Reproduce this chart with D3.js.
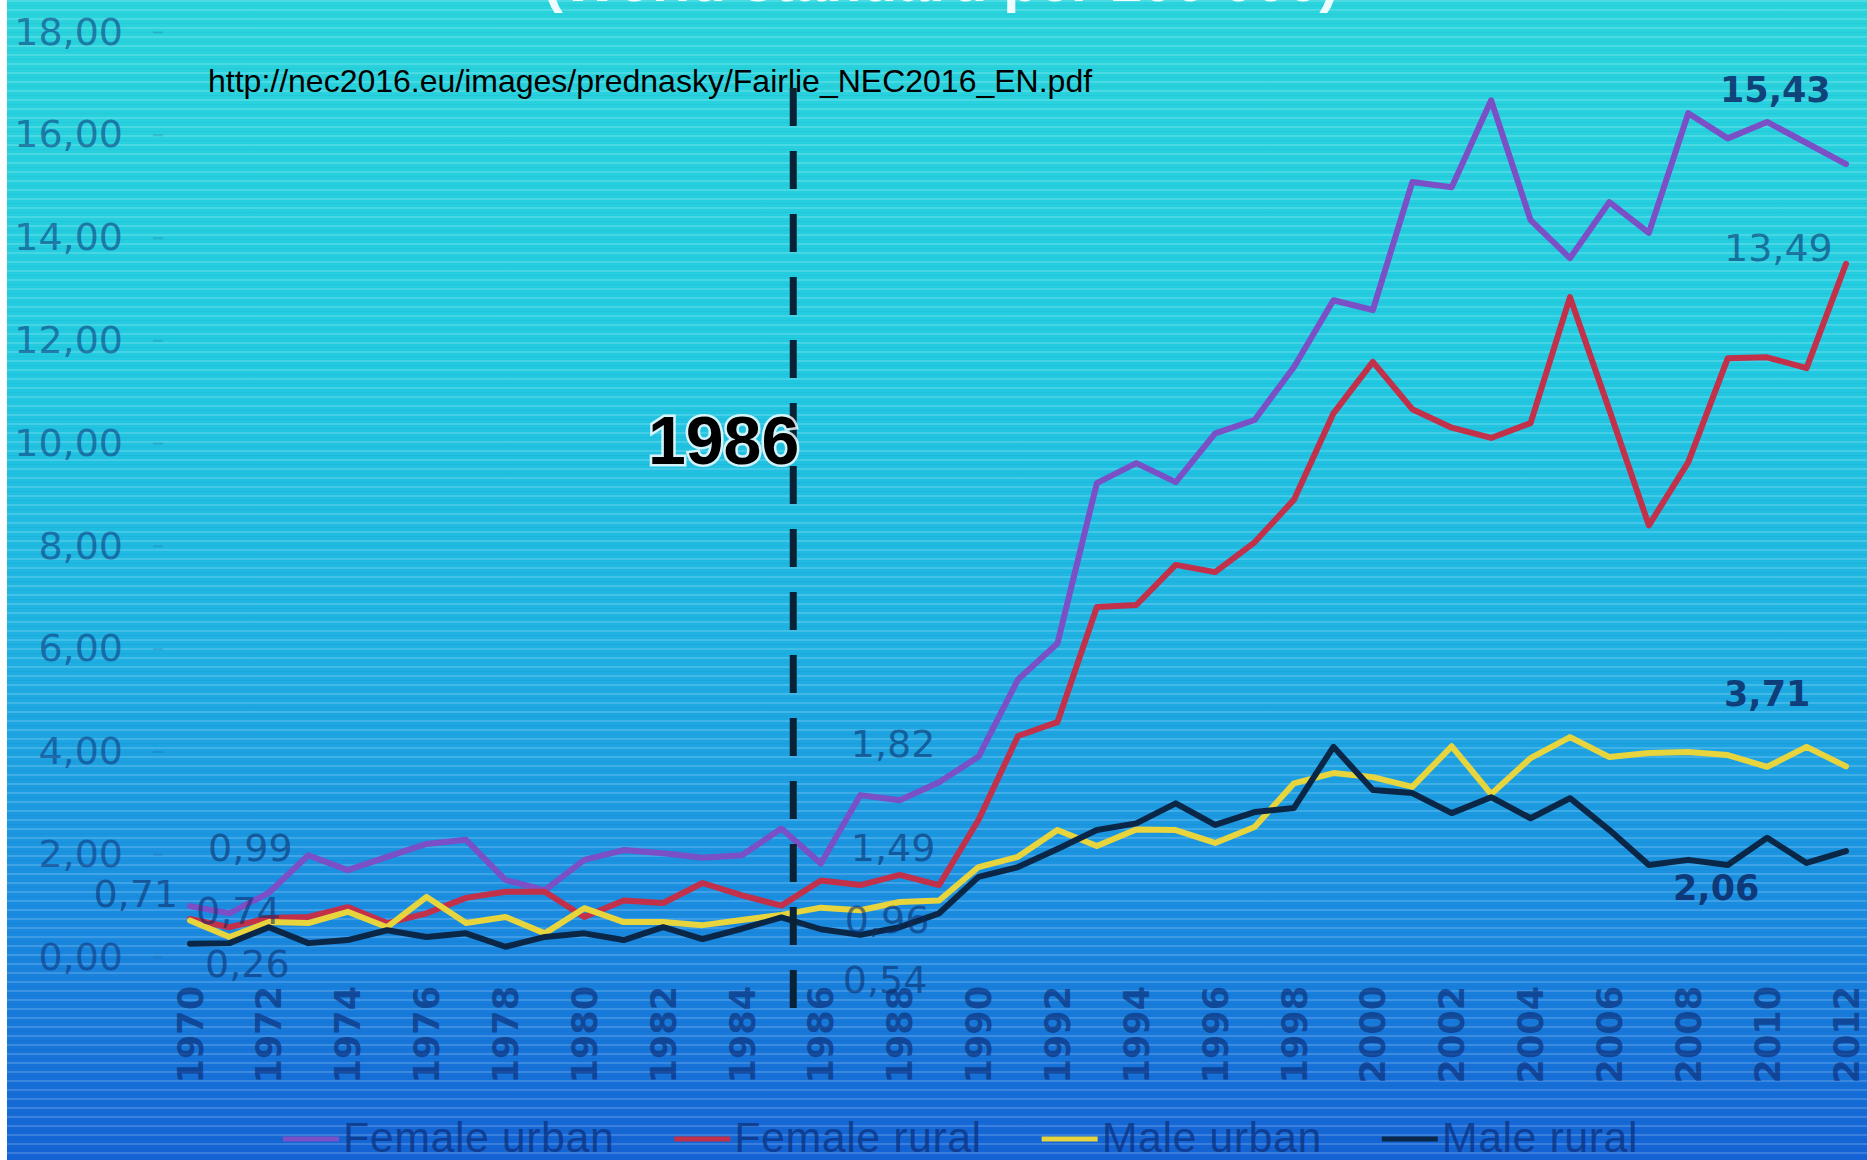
<!DOCTYPE html>
<html>
<head>
<meta charset="utf-8">
<title>Chart</title>
<script src="https://d3js.org/d3.v7.min.js"></script>
<style>
* { margin:0; padding:0; }
body { width:1867px; height:1160px; overflow:hidden; background:#fff; }
</style>
</head>
<body>
<svg id="chart" width="1867" height="1160"></svg>
<script>
// categories
var years = d3.range(1970, 2013);
var seriesNames = ["Female urban", "Female rural", "Male urban", "Male rural"];

// values (per 100 000, world standard)
var femaleUrban = [0.99, 0.85, 1.25, 1.98, 1.69, 1.95, 2.2, 2.28, 1.5, 1.3, 1.89, 2.08, 2.02, 1.93, 1.98, 2.5, 1.82, 3.15, 3.05, 3.4, 3.9, 5.4, 6.1, 9.22, 9.61, 9.24, 10.19, 10.45, 11.48, 12.78, 12.59, 15.08, 14.98, 16.67, 14.34, 13.6, 14.69, 14.09, 16.42, 15.93, 16.25, 15.84, 15.43];
var femaleRural = [0.74, 0.58, 0.76, 0.78, 0.97, 0.66, 0.85, 1.15, 1.27, 1.27, 0.78, 1.1, 1.05, 1.44, 1.2, 1.0, 1.49, 1.4, 1.6, 1.4, 2.67, 4.3, 4.57, 6.81, 6.85, 7.63, 7.49, 8.07, 8.9, 10.58, 11.58, 10.66, 10.3, 10.1, 10.39, 12.84, 10.64, 8.4, 9.63, 11.65, 11.67, 11.46, 13.49];
var maleUrban = [0.71, 0.39, 0.68, 0.66, 0.88, 0.58, 1.17, 0.66, 0.78, 0.46, 0.95, 0.68, 0.68, 0.62, 0.72, 0.82, 0.96, 0.91, 1.07, 1.1, 1.75, 1.95, 2.47, 2.16, 2.48, 2.47, 2.22, 2.53, 3.38, 3.58, 3.5, 3.31, 4.1, 3.17, 3.87, 4.28, 3.89, 3.97, 3.99, 3.93, 3.7, 4.09, 3.71];
var maleRural = [0.26, 0.27, 0.58, 0.27, 0.33, 0.52, 0.39, 0.46, 0.2, 0.39, 0.46, 0.33, 0.58, 0.35, 0.55, 0.77, 0.54, 0.43, 0.58, 0.85, 1.56, 1.75, 2.1, 2.47, 2.6, 2.99, 2.57, 2.82, 2.9, 4.09, 3.25, 3.19, 2.8, 3.11, 2.7, 3.09, 2.47, 1.79, 1.89, 1.79, 2.32, 1.83, 2.06];
var allSeries = [femaleUrban, femaleRural, maleUrban, maleRural];

// tick labels
var yTicks = [0, 2, 4, 6, 8, 10, 12, 14, 16, 18];
var xTickYears = d3.range(1970, 2013, 2);
var markerYear = 1985.3;
var markerText = "1986";
var titleText = "(World standard per 100 000)";
var sourceText = "http://nec2016.eu/images/prednasky/Fairlie_NEC2016_EN.pdf";

// annotated values: series index, year, text
var pointLabels = [
  {s: 0, year: 1970, text: "0,99"},
  {s: 2, year: 1970, text: "0,71"},
  {s: 1, year: 1970, text: "0,74"},
  {s: 3, year: 1970, text: "0,26"},
  {s: 0, year: 1986, text: "1,82"},
  {s: 1, year: 1986, text: "1,49"},
  {s: 2, year: 1986, text: "0,96"},
  {s: 3, year: 1986, text: "0,54"},
  {s: 0, year: 2012, text: "15,43"},
  {s: 1, year: 2012, text: "13,49"},
  {s: 2, year: 2012, text: "3,71"},
  {s: 3, year: 2012, text: "2,06"}
];
// where each annotation sits next to its point (same order as above)
var labelOffsets = [
  [18, -45, false], [-12, -14, false, "end"], [6, 5, false], [15, 33, false],
  [30, -106, false], [30, -19, false], [24, 25, false], [22, 64, false],
  [-126, -62, true], [-122, -3, false], [-122, -60, true], [-173, 49, true]
];

var colors = ["#7b4fc6", "#c2304a", "#e8d43c", "#0b2747"];

var W = 1867, H = 1160;
var svg = d3.select("#chart");
var defs = svg.append("defs");

var grad = defs.append("linearGradient").attr("id", "bg")
  .attr("x1", 0).attr("y1", 0).attr("x2", 0).attr("y2", 1);
grad.append("stop").attr("offset", "0%").attr("stop-color", "#2ad4dc");
grad.append("stop").attr("offset", "30%").attr("stop-color", "#22cbe0");
grad.append("stop").attr("offset", "55%").attr("stop-color", "#1fb2e2");
grad.append("stop").attr("offset", "78%").attr("stop-color", "#1a8de0");
grad.append("stop").attr("offset", "100%").attr("stop-color", "#1462d4");

var pat = defs.append("pattern").attr("id", "stripes")
  .attr("patternUnits", "userSpaceOnUse").attr("width", 20).attr("height", 9);
pat.append("rect").attr("x", 0).attr("y", 0).attr("width", 20).attr("height", 2)
  .attr("fill", "#ffffff").attr("opacity", 0.16);
pat.append("rect").attr("x", 0).attr("y", 5).attr("width", 20).attr("height", 1)
  .attr("fill", "#003060").attr("opacity", 0.05);

svg.append("rect").attr("width", W).attr("height", H).attr("fill", "url(#bg)");
svg.append("rect").attr("width", W).attr("height", H).attr("fill", "url(#stripes)");
svg.append("rect").attr("width", 7).attr("height", H).attr("fill", "#ffffff");

var x = d3.scaleLinear().domain([1970, 2012]).range([190, 1846]);
var y = d3.scaleLinear().domain([0, 18]).range([957, 32]);

// title (cut off at the top in the original)
svg.append("text").attr("x", 941).attr("y", 1)
  .attr("text-anchor", "middle")
  .style("font-family", "'Liberation Sans', Arial, sans-serif")
  .style("font-weight", "bold").style("font-size", "58px")
  .attr("fill", "#ffffff").attr("fill-opacity", 0.92).text(titleText);

// y axis
var yAxis = svg.append("g").attr("transform", "translate(163,0)")
  .call(d3.axisLeft(y).tickValues(yTicks).tickSize(10).tickPadding(30)
    .tickFormat(function(d) { return d.toFixed(2).replace(".", ","); }));
yAxis.select(".domain").remove();
yAxis.selectAll(".tick line").attr("stroke", "#1d4f80").attr("stroke-opacity", 0.2).attr("stroke-width", 2);
yAxis.selectAll(".tick text")
  .style("font-family", "'DejaVu Sans', sans-serif").style("font-size", "38px")
  .attr("fill", "#0d2f74").attr("fill-opacity", 0.55);

// x axis labels, rotated
svg.append("g").selectAll("text").data(xTickYears).join("text")
  .attr("transform", function(d) { return "translate(" + x(d) + ",986) rotate(-90)"; })
  .attr("text-anchor", "end").attr("dy", "0.36em")
  .style("font-family", "'DejaVu Sans', sans-serif").style("font-weight", "bold").style("font-size", "35px")
  .attr("fill", "#0c2e78").attr("fill-opacity", 0.68)
  .text(function(d) { return d; });

// source url
svg.append("text").attr("x", 208).attr("y", 92)
  .style("font-family", "'Liberation Sans', Arial, sans-serif").style("font-size", "32px")
  .attr("fill", "#000000").text(sourceText);

// lines
var line = d3.line().x(function(d, i) { return x(years[i]); }).y(function(d) { return y(d); });
svg.append("g").selectAll("path").data(allSeries).join("path")
  .attr("d", line).attr("fill", "none")
  .attr("stroke", function(d, i) { return colors[i]; })
  .attr("stroke-width", 6).attr("stroke-linejoin", "round").attr("stroke-linecap", "round");

// 1986 marker
svg.append("line").attr("x1", x(markerYear)).attr("x2", x(markerYear))
  .attr("y1", 88).attr("y2", 1008)
  .attr("stroke", "#0a2236").attr("stroke-width", 7).attr("stroke-dasharray", "38,25");
svg.append("text").attr("x", x(markerYear) + 6).attr("y", 464).attr("text-anchor", "end")
  .style("font-family", "'Liberation Sans', Arial, sans-serif").style("font-weight", "bold").style("font-size", "68px")
  .attr("fill", "#000000").attr("stroke", "#ffffff").attr("stroke-width", 5)
  .attr("stroke-opacity", 0.8).style("paint-order", "stroke").text(markerText);

// value annotations
svg.append("g").selectAll("text").data(pointLabels).join("text")
  .attr("x", function(d, i) { return x(d.year) + labelOffsets[i][0]; })
  .attr("y", function(d, i) { return y(allSeries[d.s][years.indexOf(d.year)]) + labelOffsets[i][1]; })
  .attr("text-anchor", function(d, i) { return labelOffsets[i][3] || "start"; })
  .style("font-family", "'DejaVu Sans', sans-serif")
  .style("font-size", function(d, i) { return labelOffsets[i][2] ? "35px" : "38px"; })
  .style("font-weight", function(d, i) { return labelOffsets[i][2] ? "bold" : "normal"; })
  .attr("fill", "#0b2a68")
  .attr("fill-opacity", function(d, i) { return labelOffsets[i][2] ? 0.85 : 0.58; })
  .text(function(d) { return d.text; });

// legend
var legend = svg.append("g").attr("transform", "translate(283,1139)");
var lx = 0;
seriesNames.forEach(function(name, i) {
  legend.append("line").attr("x1", lx).attr("x2", lx + 56).attr("y1", 0).attr("y2", 0)
    .attr("stroke", colors[i]).attr("stroke-width", 5);
  var t = legend.append("text").attr("x", lx + 60).attr("y", 13)
    .style("font-family", "'Liberation Sans', Arial, sans-serif").style("font-size", "43px")
    .style("letter-spacing", "0.5px")
    .attr("fill", "#0c2f7a").attr("fill-opacity", 0.72).text(name);
  lx += 60 + t.node().getComputedTextLength() + 60;
});
</script>
</body>
</html>
